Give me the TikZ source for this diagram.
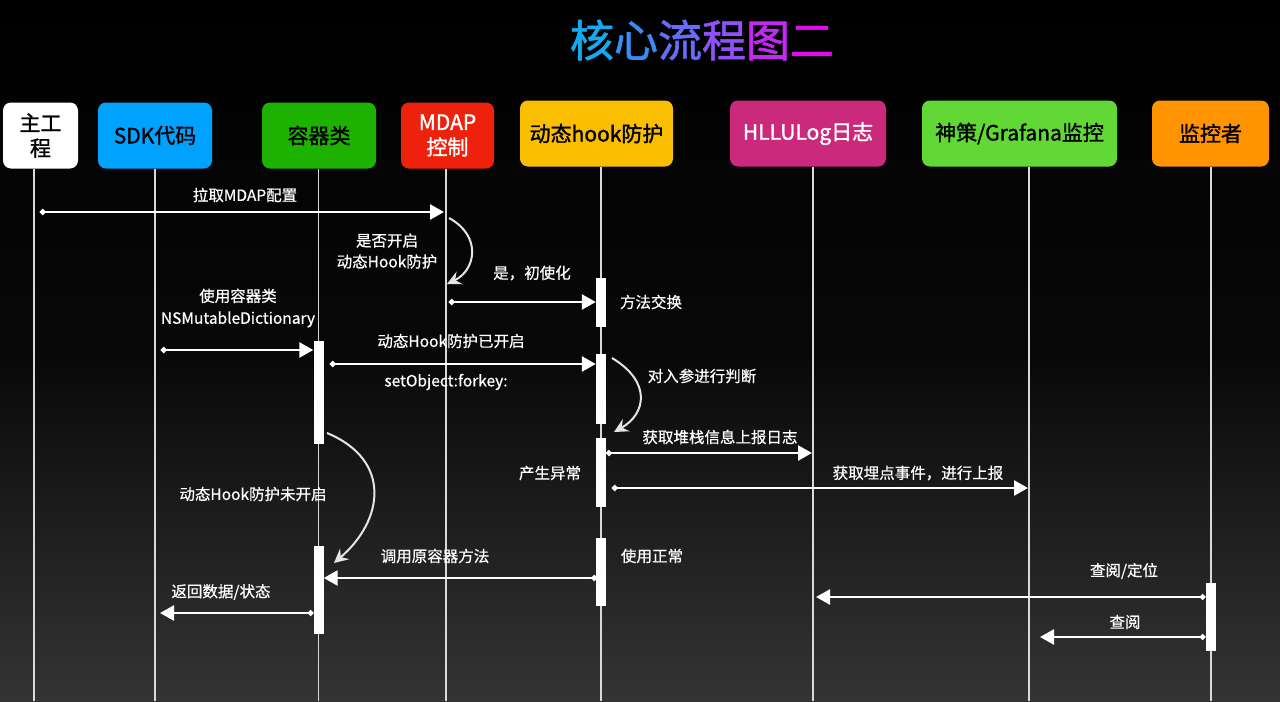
\documentclass[tikz,border=0pt]{standalone}
\usepackage{fontspec}
\setmainfont{Noto Sans CJK SC}
\newfontfamily\boxfont{Noto Sans CJK SC}[FakeBold=1.4]
\newfontfamily\lblfont{Noto Sans CJK SC}[FakeBold=0.6]
\usetikzlibrary{arrows.meta,positioning}
\definecolor{bgbot}{RGB}{52,52,52}
\definecolor{csdk}{RGB}{0,162,255}
\definecolor{ccont}{RGB}{29,177,0}
\definecolor{cmdap}{RGB}{238,34,12}
\definecolor{chook}{RGB}{250,190,0}
\definecolor{clog}{RGB}{203,41,123}
\definecolor{csc}{RGB}{97,216,54}
\definecolor{cmon}{RGB}{255,147,0}
\definecolor{ta}{RGB}{20,170,240}
\definecolor{tb}{RGB}{55,140,245}
\definecolor{tc}{RGB}{100,110,250}
\definecolor{td}{RGB}{145,80,250}
\definecolor{te}{RGB}{195,40,245}
\definecolor{tf}{RGB}{225,10,240}
\tikzset{
  actor/.style={rounded corners=8pt, minimum height=66pt, inner sep=2pt, align=center, font=\boxfont\fontsize{21}{25}\selectfont},
  life/.style={white!85!black, line width=1.5pt},
  bar/.style={fill=white, minimum width=10pt, inner sep=0pt},
  msg/.style={white, line width=2.6pt, {Circle[length=5.5pt]}-{Triangle[length=14pt,width=15pt]}},
  loopy/.style={white!90!black, line width=2pt, -{Stealth[length=14pt,width=14pt,inset=5pt]}},
  lbl/.style={white, align=center, font=\lblfont\fontsize{15.5}{22}\selectfont},
}
\begin{document}
\begin{tikzpicture}[x=1pt,y=-1pt]
\shade[top color=black, bottom color=bgbot, middle color=black!85!bgbot] (0,0) rectangle (1280,701);
\node (title) at (702,40) {\boxfont\fontsize{44}{48}\selectfont\color{ta}核\color{tb}心\color{tc}流\color{td}程\color{te}图\color{tf}二};
% participants
\node[actor, fill=white, text=black, minimum width=75pt] (main) at (40.5,135.5) {主工\\程};
\node[actor, fill=csdk, text=black, minimum width=114pt] (sdk) at (155,135.5) {SDK代码};
\node[actor, fill=ccont, text=black, minimum width=114pt] (cont) at (319,135.5) {容器类};
\node[actor, fill=cmdap, text=white, minimum width=93pt] (mdap) at (447.5,135.5) {MDAP\\控制};
\node[actor, fill=chook, text=black, minimum width=153pt] (hook) at (596.5,133.5) {动态hook防护};
\node[actor, fill=clog, text=white, minimum width=156pt] (log) at (808,133.5) {HLLULog日志};
\node[actor, fill=csc, text=black, minimum width=195pt] (sc) at (1019.5,133.5) {神策/Grafana监控};
\node[actor, fill=cmon, text=black, minimum width=117pt] (mon) at (1210.5,133.5) {监控者};
\foreach \n/\x in {main/34,sdk/155,cont/318.5,mdap/446,hook/601,log/813,sc/1029,mon/1211}
  \draw[life] (\n.south -| \x,0) -- (\x,701);
% activations
\node[bar, minimum height=49pt] (hb1) at (601,302.5) {};
\node[bar, minimum height=103pt] (cb1) at (318.5,392.5) {};
\node[bar, minimum height=70pt] (hb2) at (601,389) {};
\node[bar, minimum height=69pt] (hb3) at (601,472.5) {};
\node[bar, minimum height=68pt] (hb4) at (601,572) {};
\node[bar, minimum height=88pt] (cb2) at (318.5,590) {};
\node[bar, minimum height=68pt] (mb1) at (1210.5,617) {};
% messages
\coordinate (s1) at (40,212);
\coordinate (e1) at (444,212);
\draw[msg] (s1) -- (e1);
\node[lbl] (l1) at (245,195) {拉取MDAP配置};
\draw[loopy] (449,218) .. controls (482,236) and (476,270) .. (447,284);
\node[lbl, font=\lblfont\fontsize{15.5}{21}\selectfont] (l2) at (387,251) {是否开启\\动态Hook防护};
\coordinate (s3) at (449,302);
\draw[msg] (s3) -- (s3 -| hb1.west);
\node[lbl] (l3) at (532,273) {是，初使化};
\node[lbl] (l4) at (651,302) {方法交换};
\coordinate (s5) at (161,350);
\draw[msg] (s5) -- (s5 -| cb1.west);
\node[lbl] (l5) at (238,308) {使用容器类\\NSMutableDictionary};
\coordinate (s6) at (330,364);
\draw[msg] (s6) -- (s6 -| hb2.west);
\node[lbl] (l6) at (451,341) {动态Hook防护已开启};
\node[lbl] (l7) at (446,382) {setObject:forkey:};
\draw[loopy] (612,358) .. controls (652,382) and (646,414) .. (614,432);
\node[lbl] (l8) at (702,376) {对入参进行判断};
\coordinate (e9) at (812,453);
\draw[msg] (hb3.east |- e9) -- (e9);
\node[lbl] (l9) at (720,437) {获取堆栈信息上报日志};
\coordinate (s10) at (612,488);
\coordinate (e10) at (1028,488);
\draw[msg] (s10) -- (e10);
\node[lbl] (l10) at (550,473) {产生异常};
\node[lbl] (l11) at (918,473) {获取埋点事件，进行上报};
\draw[loopy] (327,433) .. controls (392,460) and (384,520) .. (334,563);
\node[lbl] (l12) at (253,494) {动态Hook防护未开启};
\coordinate (s13) at (597,578);
\draw[msg] (s13) -- (s13 -| cb2.east);
\node[lbl] (l13) at (435,556) {调用原容器方法};
\node[lbl] (l14) at (652,556) {使用正常};
\coordinate (e15) at (160,613);
\draw[msg] (cb2.west |- e15) -- (e15);
\node[lbl] (l15) at (221,592) {返回数据/状态};
\coordinate (e16) at (816,597);
\draw[msg] (mb1.west |- e16) -- (e16);
\node[lbl] (l16) at (1124,571) {查阅/定位};
\coordinate (e17) at (1040,637);
\draw[msg] (mb1.west |- e17) -- (e17);
\node[lbl] (l17) at (1125,622) {查阅};
\end{tikzpicture}
\end{document}
